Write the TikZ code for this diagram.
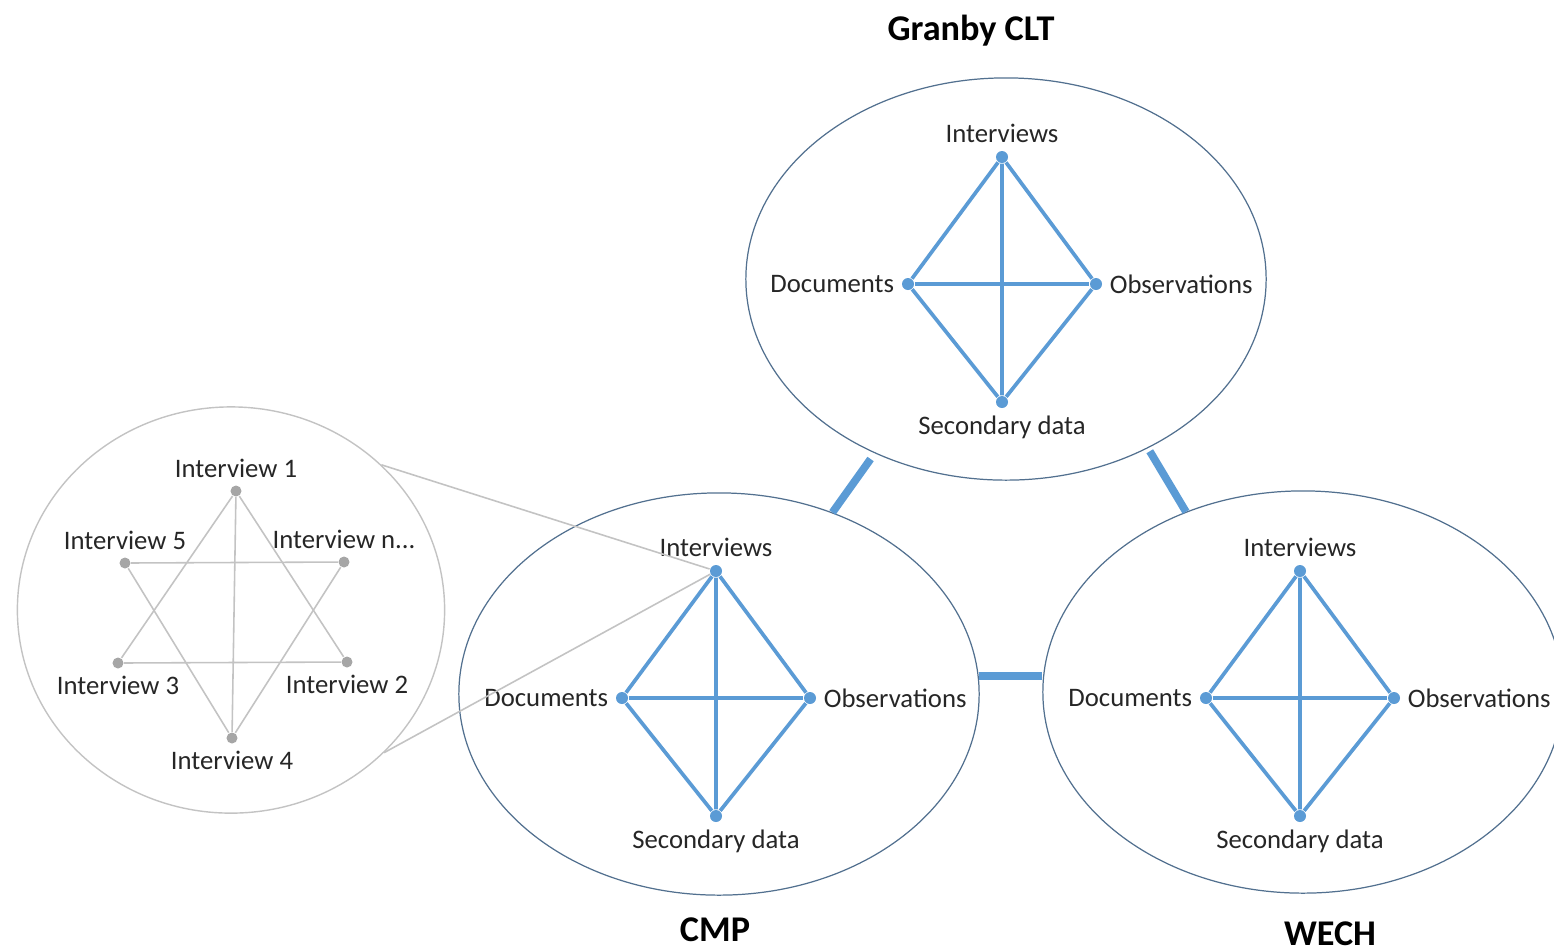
\documentclass[tikz,border=0pt]{standalone}
\usepackage{fontspec}
\setmainfont{Carlito}
\usepackage{xcolor}
\usetikzlibrary{shapes.geometric}
\usetikzlibrary{positioning}
\definecolor{sourceblue}{HTML}{5B9BD5}
\definecolor{rimblue}{HTML}{52708F}
\definecolor{poolgray}{HTML}{C3C3C3}
\definecolor{dotgray}{HTML}{A6A6A6}

\begin{document}
\begin{tikzpicture}[x=0.01cm, y=-0.01cm,
  txt/.style={font=\fontsize{7.6}{9}\selectfont, text=black!85},
  title/.style={font=\fontsize{10.3}{12}\selectfont\bfseries},
  field/.style={ellipse, draw=rimblue, line width=0.35pt, inner sep=0pt,
    minimum width=5.2cm, minimum height=4.02cm},
  pool/.style={ellipse, draw=poolgray, line width=0.4pt, inner sep=0pt,
    minimum width=4.27cm, minimum height=4.06cm},
  src/.style={circle, fill=sourceblue, inner sep=0pt, minimum size=0.12cm},
  ivw/.style={circle, fill=dotgray, inner sep=0pt, minimum size=0.11cm},
  link/.style={draw=sourceblue, line width=1.05pt},
  bar/.style={draw=sourceblue, line width=2.2pt},
  thin/.style={draw=poolgray, line width=0.45pt},
  lbl/.style={txt, label distance=-1.5pt}]
  \useasboundingbox (0,0) rectangle (1554,950);

  % the three cases, each with four sources
  \foreach \e/\ex/\ey/\dx/\dy in {gran/1006/279/1002/280, cmp/719/694/716/694, wech/1303/692/1300/694}{
    \node[field] (\e) at (\ex,\ey) {};
    \node[src, label={[lbl]above:Interviews}] (\e-i) at (\dx,\dy-123) {};
    \node[src, label={[lbl]left:Documents}] (\e-d) at (\dx-94,\dy+4) {};
    \node[src, label={[lbl]right:Observations}] (\e-o) at (\dx+94,\dy+4) {};
    \node[src, label={[lbl]below:Secondary data}] (\e-s) at (\dx,\dy+122) {};
    \draw[link] (\e-i) -- (\e-d) -- (\e-s) -- (\e-o) -- (\e-i) -- (\e-s);
    \draw[link] (\e-d) -- (\e-o);
  }

  % case names
  \node[title] (gran-t) at (971,31) {Granby CLT};
  \node[title] (cmp-t) at (715,930) {CMP};
  \node[title] (wech-t) at (1330,934) {WECH};

  % links between the cases
  \draw[bar, shorten <=2pt] (gran.-127.6) -- (cmp.58);
  \draw[bar, shorten <=1pt] (gran.-50.7) -- (wech.123.8);
  \draw[bar] (cmp.4.2) -- (cmp.4.2 -| wech.west);

  % the interviews, zoomed out of CMP
  \node[pool] (ivs) at (231,610) {};
  \node[ivw, label={[lbl]above:Interview 1}] (iv1) at (236,491) {};
  \node[ivw, label={[lbl]above:Interview 5}] (iv5) at (125,563) {};
  \node[ivw, label={[lbl]above:Interview n...}] (ivn) at (344,562) {};
  \node[ivw, label={[lbl]below:Interview 3}] (iv3) at (118,663) {};
  \node[ivw, label={[lbl]below:Interview 2}] (iv2) at (347,662) {};
  \node[ivw, label={[lbl]below:Interview 4}] (iv4) at (232,738) {};
  \draw[thin] (iv1) -- (iv3) -- (iv2) -- (iv1) -- (iv4);
  \draw[thin] (iv5) -- (ivn) -- (iv4) -- (iv5);

  \draw[thin] (ivs.44) -- (cmp-i);
  \draw[thin] (ivs.-43) -- (cmp-i);
\end{tikzpicture}
\end{document}
